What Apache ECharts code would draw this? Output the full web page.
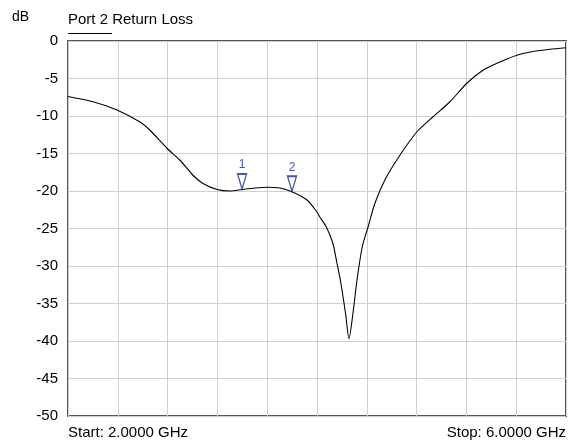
<!DOCTYPE html>
<html><head><meta charset="utf-8">
<script src="https://cdn.jsdelivr.net/npm/echarts@6/dist/echarts.min.js"></script>
<style>html,body{margin:0;padding:0;background:#fff}#c{width:571px;height:443px}</style>
</head><body><div id="c"></div>
<script>
const freqGHz = [2.000,2.201,2.394,2.578,2.659,2.795,2.900,3.004,3.084,3.197,3.301,3.398,3.502,3.598,3.703,3.799,3.920,4.000,4.024,4.075,4.128,4.160,4.188,4.229,4.257,4.289,4.321,4.364,4.410,4.466,4.546,4.667,4.803,4.932,5.068,5.205,5.333,5.470,5.606,5.735,5.871,6.000];
const lossDb  = [-7.4,-8.1,-9.2,-10.8,-11.9,-14.3,-15.9,-17.9,-19.0,-19.8,-20.0,-19.8,-19.6,-19.5,-19.6,-20.1,-21.2,-22.8,-23.5,-24.8,-27.0,-29.6,-31.9,-36.3,-39.7,-36.3,-31.9,-27.4,-24.8,-21.6,-18.5,-15.2,-12.1,-10.1,-8.1,-5.6,-3.9,-2.8,-1.9,-1.4,-1.1,-0.9];
const markerNames = ['1','2'];
const markerFreq = [3.398,3.799];
const markerDb = [-19.8,-20.1];
const yTicks = [0,-5,-10,-15,-20,-25,-30,-35,-40,-45,-50];

const chart = echarts.init(document.getElementById('c'));
const font = 'Liberation Sans, Arial, sans-serif';
chart.setOption({
  animation:false,
  grid:{left:68,top:41,right:5,bottom:27,show:true,borderColor:'#555',borderWidth:2},
  xAxis:{type:'value',min:2,max:6,interval:0.4,axisLabel:{show:false},axisTick:{show:false},
    axisLine:{show:false},splitLine:{lineStyle:{color:'#cfcfcf',width:1}}},
  yAxis:{type:'value',min:-50,max:0,interval:5,axisTick:{show:false},axisLine:{show:false},
    splitLine:{lineStyle:{color:'#cfcfcf',width:1}},
    axisLabel:{color:'#000',fontFamily:font,fontSize:15,margin:10,
      formatter:v=>yTicks.includes(v)?String(v):''}},
  graphic:[
    {type:'text',left:12,top:10,style:{text:'dB',fill:'#000',font:'14px '+font}},
    {type:'text',left:68,top:12,style:{text:'Port 2 Return Loss',fill:'#000',font:'15px '+font}},
    {type:'line',shape:{x1:68,y1:33.5,x2:112,y2:33.5},style:{stroke:'#000',lineWidth:1}},
    {type:'text',left:68,top:425,style:{text:'Start: 2.0000 GHz',fill:'#000',font:'15px '+font}},
    {type:'text',right:5,top:425,style:{text:'Stop: 6.0000 GHz',fill:'#000',font:'15px '+font}}
  ],
  series:[
    {type:'line',data:freqGHz.map((f,i)=>[f,lossDb[i]]),showSymbol:false,smooth:0.25,
      lineStyle:{color:'#000',width:1.1},z:3},
    {type:'scatter',data:markerFreq.map((f,i)=>({value:[f,markerDb[i]],name:markerNames[i]})),
      symbol:'triangle',symbolSize:[9,15],symbolRotate:180,symbolOffset:[0,-8],
      itemStyle:{color:'rgba(0,0,0,0)',borderColor:'#1a2a9a',borderWidth:1.5},
      label:{show:true,position:'top',distance:2,formatter:p=>p.name,color:'#1a2a9a',fontFamily:font,fontSize:12},z:4}
  ]
});
</script></body></html>
